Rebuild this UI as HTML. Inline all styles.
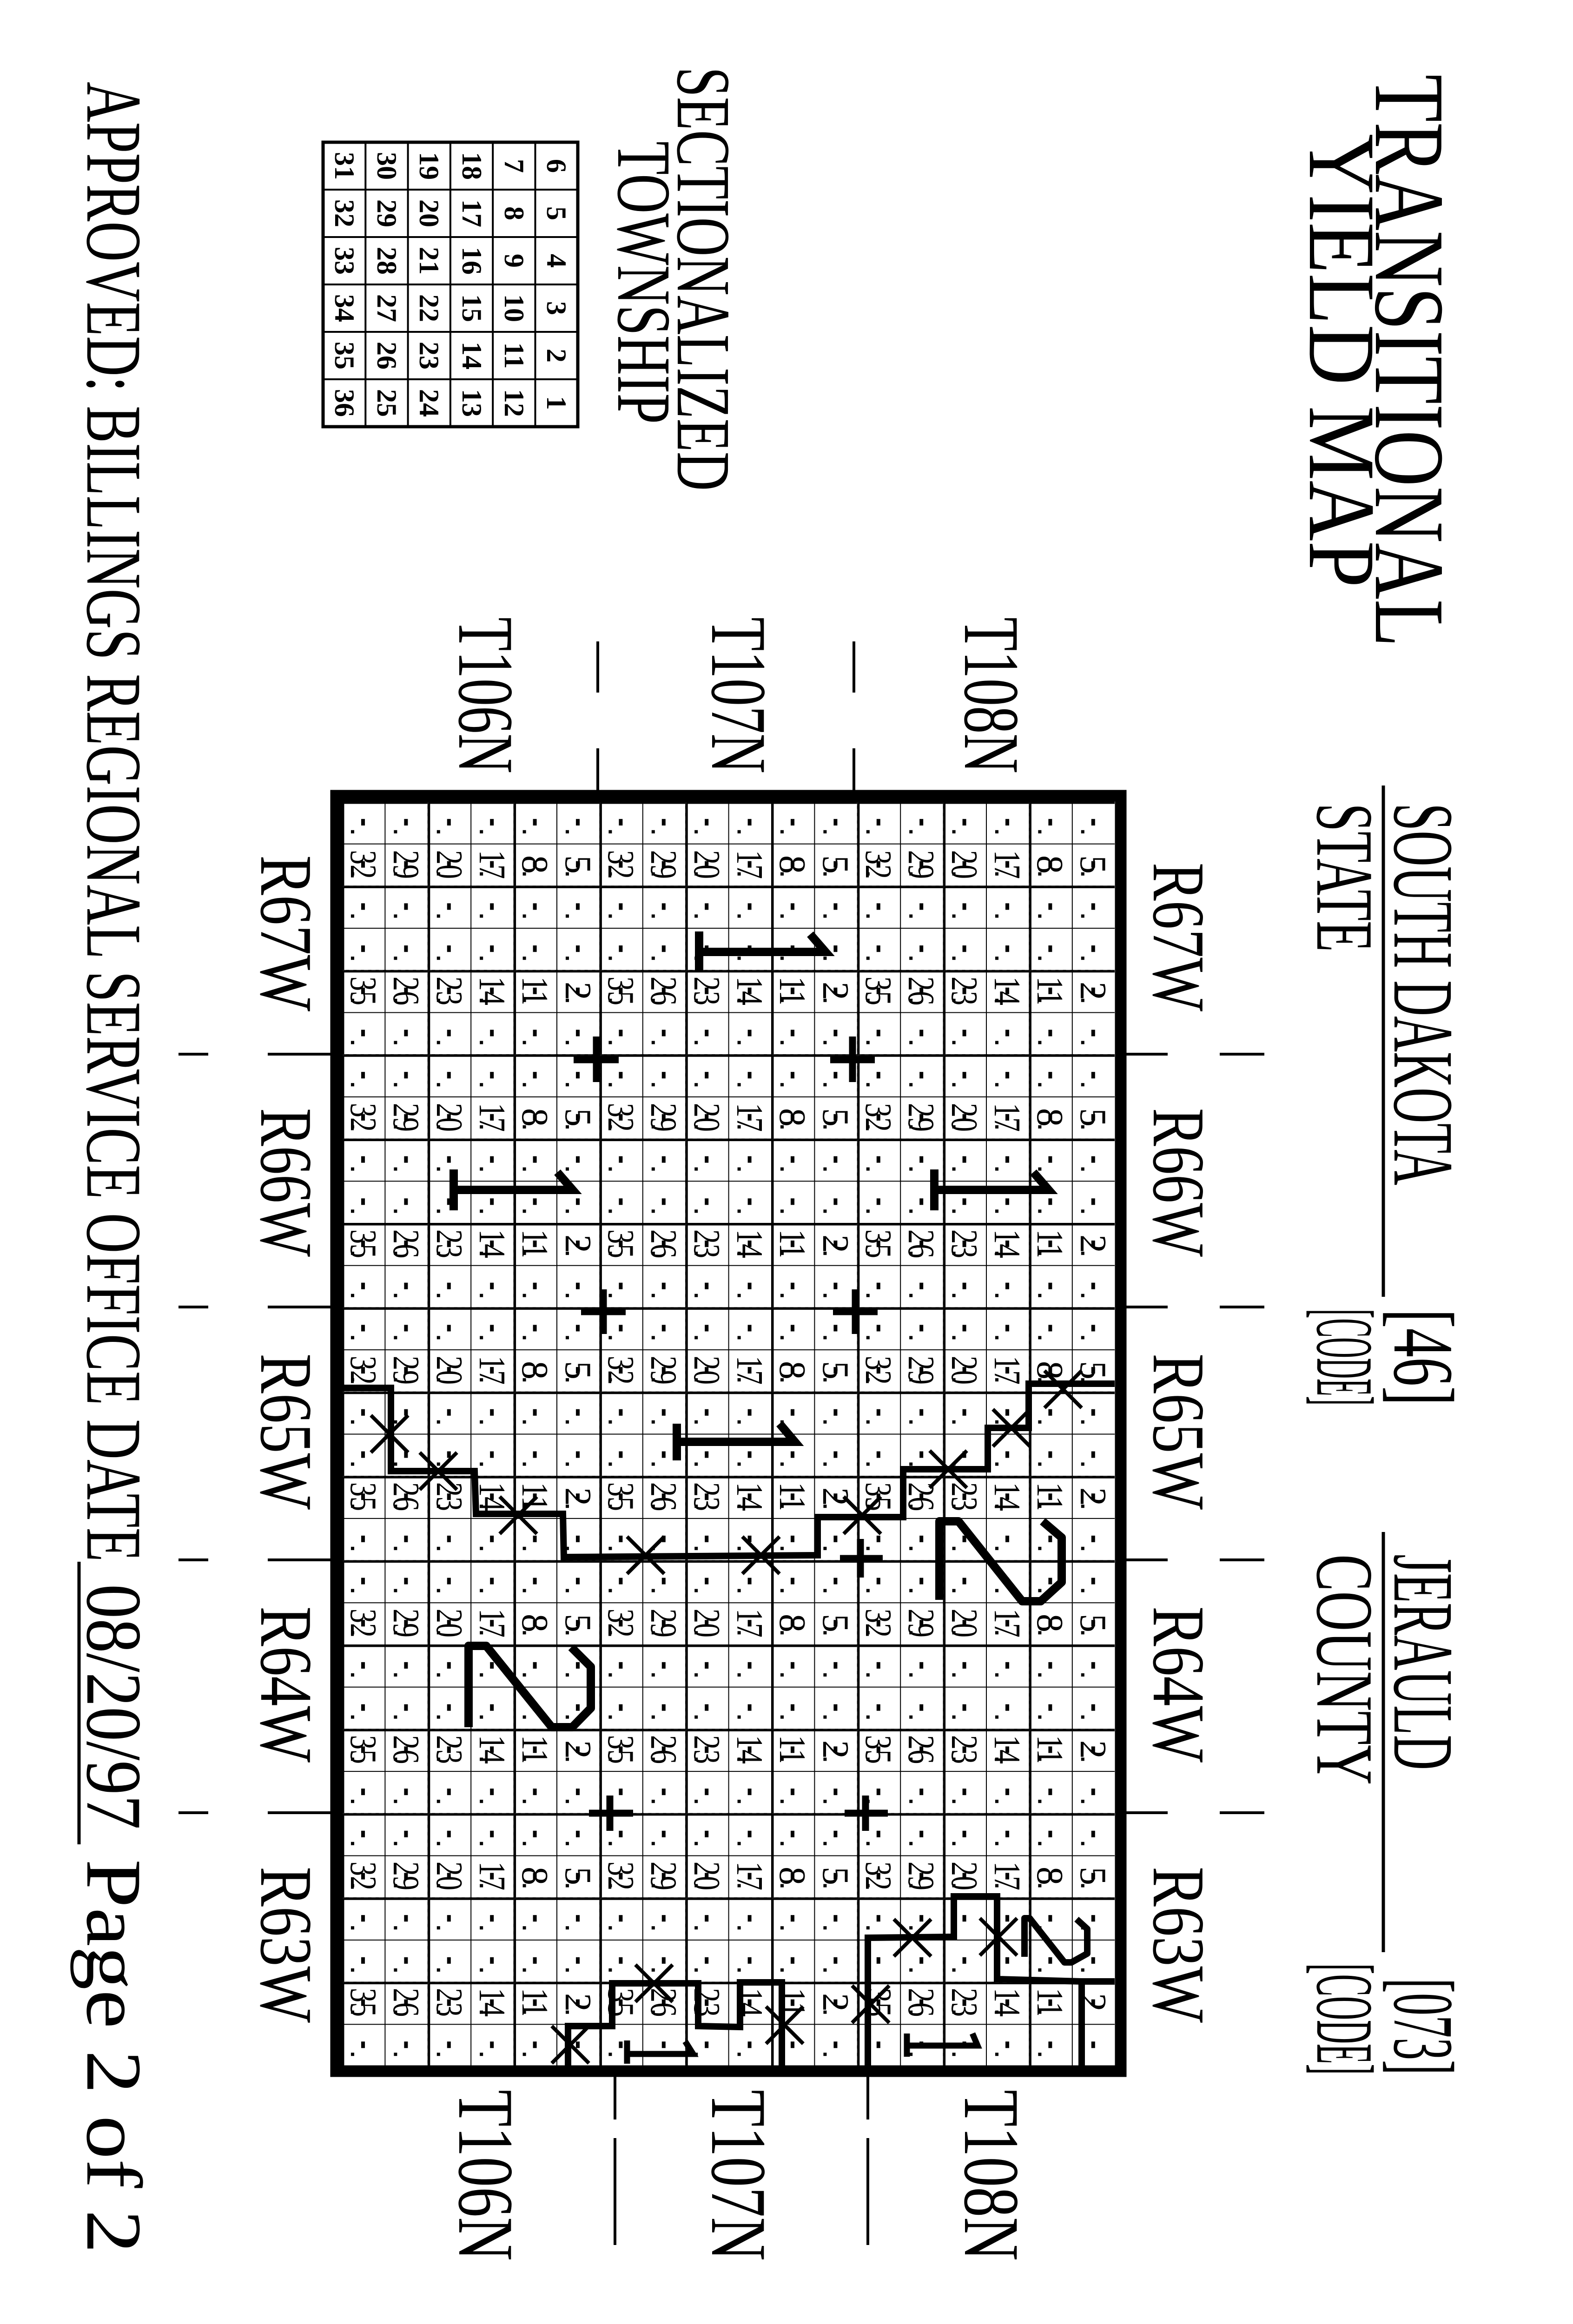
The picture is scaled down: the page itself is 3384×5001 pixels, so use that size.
<!DOCTYPE html>
<html><head><meta charset="utf-8"><style>
html,body{margin:0;padding:0;background:#fff;width:3384px;height:5001px;overflow:hidden}
svg{display:block}
.L{font-family:"Liberation Serif",serif;fill:#000}
.b{font-family:"Liberation Serif",serif;font-size:80px;text-anchor:middle;fill:#000}
.s{font-family:"Liberation Serif",serif;font-weight:bold;font-size:60px;text-anchor:middle;fill:#000}
</style></head><body>
<svg width="3384" height="5001" viewBox="0 0 3384 5001" xmlns="http://www.w3.org/2000/svg">
<defs>
<pattern id="sec" patternUnits="userSpaceOnUse" x="735" y="1724" width="92.4" height="90.7">
<path d="M0 0H92.4M0 0V90.7" stroke="#000" stroke-width="4" fill="none"/>
<rect x="42" y="38" width="8" height="14" fill="#000"/>
<rect x="20" y="62" width="7" height="7" fill="#000"/>
</pattern>
<pattern id="rd" patternUnits="userSpaceOnUse" x="735" y="1724" width="184.8" height="181.4">
<path d="M0 0H184.8M0 0V181.4" stroke="#000" stroke-width="11" fill="none"/>
<path d="M0 0H184.8M0 0V181.4" stroke="#fff" stroke-width="4" stroke-dasharray="9 7" fill="none"/>
</pattern>
</defs>
<rect width="3384" height="5001" fill="#fff"/>

<!-- Titles -->
<text class="L" font-size="215" transform="translate(2960,160) rotate(90)" textLength="1232" lengthAdjust="spacingAndGlyphs">TRANSITIONAL</text>
<text class="L" font-size="205" transform="translate(2818,288) rotate(90)" textLength="976" lengthAdjust="spacingAndGlyphs">YIELD MAP</text>

<text class="L" font-size="185" transform="translate(3000,1728) rotate(90)" textLength="822" lengthAdjust="spacingAndGlyphs">SOUTH DAKOTA</text>
<text class="L" font-size="185" transform="translate(3000,2816) rotate(90)" textLength="208" lengthAdjust="spacingAndGlyphs">[46]</text>
<line x1="2976" y1="1690" x2="2976" y2="2790" stroke="#000" stroke-width="7"/>
<text class="L" font-size="175" transform="translate(2834,1728) rotate(90)" textLength="320" lengthAdjust="spacingAndGlyphs">STATE</text>
<text class="L" font-size="175" transform="translate(2834,2816) rotate(90)" textLength="208" lengthAdjust="spacingAndGlyphs">[CODE]</text>

<text class="L" font-size="185" transform="translate(3000,3344) rotate(90)" textLength="464" lengthAdjust="spacingAndGlyphs">JERAULD</text>
<text class="L" font-size="185" transform="translate(3000,4256) rotate(90)" textLength="208" lengthAdjust="spacingAndGlyphs">[073]</text>
<line x1="2976" y1="3296" x2="2976" y2="4200" stroke="#000" stroke-width="7"/>
<text class="L" font-size="175" transform="translate(2834,3344) rotate(90)" textLength="496" lengthAdjust="spacingAndGlyphs">COUNTY</text>
<text class="L" font-size="175" transform="translate(2834,4224) rotate(90)" textLength="240" lengthAdjust="spacingAndGlyphs">[CODE]</text>

<text class="L" font-size="165" transform="translate(1458,144) rotate(90)" textLength="912" lengthAdjust="spacingAndGlyphs">SECTIONALIZED</text>
<text class="L" font-size="165" transform="translate(1330,304) rotate(90)" textLength="608" lengthAdjust="spacingAndGlyphs">TOWNSHIP</text>

<text class="L" font-size="170" transform="translate(188,176) rotate(90)" textLength="3184" lengthAdjust="spacingAndGlyphs">APPROVED: BILLINGS REGIONAL SERVICE OFFICE  DATE</text>
<text class="L" font-size="170" transform="translate(188,3408) rotate(90)" textLength="528" lengthAdjust="spacingAndGlyphs">08/20/97</text>
<line x1="170" y1="3360" x2="170" y2="3968" stroke="#000" stroke-width="7"/>
<text class="L" font-size="170" transform="translate(188,4000) rotate(90)" textLength="848" lengthAdjust="spacingAndGlyphs">Page 2 of 2</text>

<!-- Inset section grid -->
<g stroke="#000" fill="none">
<rect x="695" y="306" width="548" height="612" stroke-width="7"/>
<path d="M786.3 306V918M877.6 306V918M968.9 306V918M1060.2 306V918M1151.5 306V918M695 408H1243M695 510H1243M695 612H1243M695 714H1243M695 816H1243" stroke-width="4"/>
</g>
<g transform="translate(1243,306) rotate(90)" class="s">
<text x="51" y="66">6</text><text x="153" y="66">5</text><text x="255" y="66">4</text><text x="357" y="66">3</text><text x="459" y="66">2</text><text x="561" y="66">1</text>
<text x="51" y="157">7</text><text x="153" y="157">8</text><text x="255" y="157">9</text><text x="357" y="157">10</text><text x="459" y="157">11</text><text x="561" y="157">12</text>
<text x="51" y="248">18</text><text x="153" y="248">17</text><text x="255" y="248">16</text><text x="357" y="248">15</text><text x="459" y="248">14</text><text x="561" y="248">13</text>
<text x="51" y="340">19</text><text x="153" y="340">20</text><text x="255" y="340">21</text><text x="357" y="340">22</text><text x="459" y="340">23</text><text x="561" y="340">24</text>
<text x="51" y="431">30</text><text x="153" y="431">29</text><text x="255" y="431">28</text><text x="357" y="431">27</text><text x="459" y="431">26</text><text x="561" y="431">25</text>
<text x="51" y="522">31</text><text x="153" y="522">32</text><text x="255" y="522">33</text><text x="357" y="522">34</text><text x="459" y="522">35</text><text x="561" y="522">36</text>
</g>

<!-- Township labels -->
<text class="L" font-size="170" transform="translate(2076,1328) rotate(90)" textLength="336" lengthAdjust="spacingAndGlyphs">T108N</text>
<text class="L" font-size="170" transform="translate(2076,4496) rotate(90)" textLength="368" lengthAdjust="spacingAndGlyphs">T108N</text>
<text class="L" font-size="170" transform="translate(1532,1328) rotate(90)" textLength="336" lengthAdjust="spacingAndGlyphs">T107N</text>
<text class="L" font-size="170" transform="translate(1532,4496) rotate(90)" textLength="368" lengthAdjust="spacingAndGlyphs">T107N</text>
<text class="L" font-size="170" transform="translate(988,1328) rotate(90)" textLength="336" lengthAdjust="spacingAndGlyphs">T106N</text>
<text class="L" font-size="170" transform="translate(988,4496) rotate(90)" textLength="368" lengthAdjust="spacingAndGlyphs">T106N</text>

<!-- Range labels -->
<g class="L" font-size="160">
<text transform="translate(2482,1856) rotate(90)" textLength="320" lengthAdjust="spacingAndGlyphs">R67W</text>
<text transform="translate(2482,2384) rotate(90)" textLength="320" lengthAdjust="spacingAndGlyphs">R66W</text>
<text transform="translate(2482,2912) rotate(90)" textLength="336" lengthAdjust="spacingAndGlyphs">R65W</text>
<text transform="translate(2482,3456) rotate(90)" textLength="336" lengthAdjust="spacingAndGlyphs">R64W</text>
<text transform="translate(2482,4016) rotate(90)" textLength="336" lengthAdjust="spacingAndGlyphs">R63W</text>
<text transform="translate(562,1840) rotate(90)" textLength="336" lengthAdjust="spacingAndGlyphs">R67W</text>
<text transform="translate(562,2384) rotate(90)" textLength="320" lengthAdjust="spacingAndGlyphs">R66W</text>
<text transform="translate(562,2912) rotate(90)" textLength="336" lengthAdjust="spacingAndGlyphs">R65W</text>
<text transform="translate(562,3456) rotate(90)" textLength="336" lengthAdjust="spacingAndGlyphs">R64W</text>
<text transform="translate(562,4016) rotate(90)" textLength="336" lengthAdjust="spacingAndGlyphs">R63W</text>
</g>

<!-- tick lines -->
<g stroke="#000" stroke-width="6">
<path d="M2423 2268H2512M2624 2268H2720M2423 2812H2512M2624 2812H2720M2423 3356H2512M2624 3356H2720M2423 3900H2512M2624 3900H2720"/>
<path d="M384 2268H448M576 2268H711M384 2812H448M576 2812H711M384 3356H448M576 3356H711M384 3900H448M576 3900H711"/>
<path d="M1286 1380V1490M1286 1610V1700M1837 1380V1490M1837 1610V1700"/>
<path d="M1323 4468V4560M1323 4600V4830M1867 4468V4560M1867 4600V4830"/>
</g>

<!-- Map -->
<rect x="735" y="1724" width="1663" height="2721" fill="#fff"/>
<rect x="735" y="1724" width="1663" height="2721" fill="url(#rd)"/>
<rect x="735" y="1724" width="1663" height="2721" fill="url(#sec)"/>

<!-- big section numbers per township -->
<g transform="translate(2398,1724) rotate(90)"><text class="b" x="136" y="73">5</text><text class="b" x="136" y="166">8</text><text class="b" x="136" y="258" textLength="62" lengthAdjust="spacingAndGlyphs">17</text><text class="b" x="136" y="350" textLength="62" lengthAdjust="spacingAndGlyphs">20</text><text class="b" x="136" y="443" textLength="62" lengthAdjust="spacingAndGlyphs">29</text><text class="b" x="136" y="535" textLength="62" lengthAdjust="spacingAndGlyphs">32</text><text class="b" x="408" y="73">2</text><text class="b" x="408" y="166" textLength="62" lengthAdjust="spacingAndGlyphs">11</text><text class="b" x="408" y="258" textLength="62" lengthAdjust="spacingAndGlyphs">14</text><text class="b" x="408" y="350" textLength="62" lengthAdjust="spacingAndGlyphs">23</text><text class="b" x="408" y="443" textLength="62" lengthAdjust="spacingAndGlyphs">26</text><text class="b" x="408" y="535" textLength="62" lengthAdjust="spacingAndGlyphs">35</text></g>
<g transform="translate(2398,2268) rotate(90)"><text class="b" x="136" y="73">5</text><text class="b" x="136" y="166">8</text><text class="b" x="136" y="258" textLength="62" lengthAdjust="spacingAndGlyphs">17</text><text class="b" x="136" y="350" textLength="62" lengthAdjust="spacingAndGlyphs">20</text><text class="b" x="136" y="443" textLength="62" lengthAdjust="spacingAndGlyphs">29</text><text class="b" x="136" y="535" textLength="62" lengthAdjust="spacingAndGlyphs">32</text><text class="b" x="408" y="73">2</text><text class="b" x="408" y="166" textLength="62" lengthAdjust="spacingAndGlyphs">11</text><text class="b" x="408" y="258" textLength="62" lengthAdjust="spacingAndGlyphs">14</text><text class="b" x="408" y="350" textLength="62" lengthAdjust="spacingAndGlyphs">23</text><text class="b" x="408" y="443" textLength="62" lengthAdjust="spacingAndGlyphs">26</text><text class="b" x="408" y="535" textLength="62" lengthAdjust="spacingAndGlyphs">35</text></g>
<g transform="translate(2398,2812) rotate(90)"><text class="b" x="136" y="73">5</text><text class="b" x="136" y="166">8</text><text class="b" x="136" y="258" textLength="62" lengthAdjust="spacingAndGlyphs">17</text><text class="b" x="136" y="350" textLength="62" lengthAdjust="spacingAndGlyphs">20</text><text class="b" x="136" y="443" textLength="62" lengthAdjust="spacingAndGlyphs">29</text><text class="b" x="136" y="535" textLength="62" lengthAdjust="spacingAndGlyphs">32</text><text class="b" x="408" y="73">2</text><text class="b" x="408" y="166" textLength="62" lengthAdjust="spacingAndGlyphs">11</text><text class="b" x="408" y="258" textLength="62" lengthAdjust="spacingAndGlyphs">14</text><text class="b" x="408" y="350" textLength="62" lengthAdjust="spacingAndGlyphs">23</text><text class="b" x="408" y="443" textLength="62" lengthAdjust="spacingAndGlyphs">26</text><text class="b" x="408" y="535" textLength="62" lengthAdjust="spacingAndGlyphs">35</text></g>
<g transform="translate(2398,3356) rotate(90)"><text class="b" x="136" y="73">5</text><text class="b" x="136" y="166">8</text><text class="b" x="136" y="258" textLength="62" lengthAdjust="spacingAndGlyphs">17</text><text class="b" x="136" y="350" textLength="62" lengthAdjust="spacingAndGlyphs">20</text><text class="b" x="136" y="443" textLength="62" lengthAdjust="spacingAndGlyphs">29</text><text class="b" x="136" y="535" textLength="62" lengthAdjust="spacingAndGlyphs">32</text><text class="b" x="408" y="73">2</text><text class="b" x="408" y="166" textLength="62" lengthAdjust="spacingAndGlyphs">11</text><text class="b" x="408" y="258" textLength="62" lengthAdjust="spacingAndGlyphs">14</text><text class="b" x="408" y="350" textLength="62" lengthAdjust="spacingAndGlyphs">23</text><text class="b" x="408" y="443" textLength="62" lengthAdjust="spacingAndGlyphs">26</text><text class="b" x="408" y="535" textLength="62" lengthAdjust="spacingAndGlyphs">35</text></g>
<g transform="translate(2398,3900) rotate(90)"><text class="b" x="136" y="73">5</text><text class="b" x="136" y="166">8</text><text class="b" x="136" y="258" textLength="62" lengthAdjust="spacingAndGlyphs">17</text><text class="b" x="136" y="350" textLength="62" lengthAdjust="spacingAndGlyphs">20</text><text class="b" x="136" y="443" textLength="62" lengthAdjust="spacingAndGlyphs">29</text><text class="b" x="136" y="535" textLength="62" lengthAdjust="spacingAndGlyphs">32</text><text class="b" x="408" y="73">2</text><text class="b" x="408" y="166" textLength="62" lengthAdjust="spacingAndGlyphs">11</text><text class="b" x="408" y="258" textLength="62" lengthAdjust="spacingAndGlyphs">14</text><text class="b" x="408" y="350" textLength="62" lengthAdjust="spacingAndGlyphs">23</text><text class="b" x="408" y="443" textLength="62" lengthAdjust="spacingAndGlyphs">26</text><text class="b" x="408" y="535" textLength="62" lengthAdjust="spacingAndGlyphs">35</text></g>
<g transform="translate(1844,1724) rotate(90)"><text class="b" x="136" y="73">5</text><text class="b" x="136" y="166">8</text><text class="b" x="136" y="258" textLength="62" lengthAdjust="spacingAndGlyphs">17</text><text class="b" x="136" y="350" textLength="62" lengthAdjust="spacingAndGlyphs">20</text><text class="b" x="136" y="443" textLength="62" lengthAdjust="spacingAndGlyphs">29</text><text class="b" x="136" y="535" textLength="62" lengthAdjust="spacingAndGlyphs">32</text><text class="b" x="408" y="73">2</text><text class="b" x="408" y="166" textLength="62" lengthAdjust="spacingAndGlyphs">11</text><text class="b" x="408" y="258" textLength="62" lengthAdjust="spacingAndGlyphs">14</text><text class="b" x="408" y="350" textLength="62" lengthAdjust="spacingAndGlyphs">23</text><text class="b" x="408" y="443" textLength="62" lengthAdjust="spacingAndGlyphs">26</text><text class="b" x="408" y="535" textLength="62" lengthAdjust="spacingAndGlyphs">35</text></g>
<g transform="translate(1844,2268) rotate(90)"><text class="b" x="136" y="73">5</text><text class="b" x="136" y="166">8</text><text class="b" x="136" y="258" textLength="62" lengthAdjust="spacingAndGlyphs">17</text><text class="b" x="136" y="350" textLength="62" lengthAdjust="spacingAndGlyphs">20</text><text class="b" x="136" y="443" textLength="62" lengthAdjust="spacingAndGlyphs">29</text><text class="b" x="136" y="535" textLength="62" lengthAdjust="spacingAndGlyphs">32</text><text class="b" x="408" y="73">2</text><text class="b" x="408" y="166" textLength="62" lengthAdjust="spacingAndGlyphs">11</text><text class="b" x="408" y="258" textLength="62" lengthAdjust="spacingAndGlyphs">14</text><text class="b" x="408" y="350" textLength="62" lengthAdjust="spacingAndGlyphs">23</text><text class="b" x="408" y="443" textLength="62" lengthAdjust="spacingAndGlyphs">26</text><text class="b" x="408" y="535" textLength="62" lengthAdjust="spacingAndGlyphs">35</text></g>
<g transform="translate(1844,2812) rotate(90)"><text class="b" x="136" y="73">5</text><text class="b" x="136" y="166">8</text><text class="b" x="136" y="258" textLength="62" lengthAdjust="spacingAndGlyphs">17</text><text class="b" x="136" y="350" textLength="62" lengthAdjust="spacingAndGlyphs">20</text><text class="b" x="136" y="443" textLength="62" lengthAdjust="spacingAndGlyphs">29</text><text class="b" x="136" y="535" textLength="62" lengthAdjust="spacingAndGlyphs">32</text><text class="b" x="408" y="73">2</text><text class="b" x="408" y="166" textLength="62" lengthAdjust="spacingAndGlyphs">11</text><text class="b" x="408" y="258" textLength="62" lengthAdjust="spacingAndGlyphs">14</text><text class="b" x="408" y="350" textLength="62" lengthAdjust="spacingAndGlyphs">23</text><text class="b" x="408" y="443" textLength="62" lengthAdjust="spacingAndGlyphs">26</text><text class="b" x="408" y="535" textLength="62" lengthAdjust="spacingAndGlyphs">35</text></g>
<g transform="translate(1844,3356) rotate(90)"><text class="b" x="136" y="73">5</text><text class="b" x="136" y="166">8</text><text class="b" x="136" y="258" textLength="62" lengthAdjust="spacingAndGlyphs">17</text><text class="b" x="136" y="350" textLength="62" lengthAdjust="spacingAndGlyphs">20</text><text class="b" x="136" y="443" textLength="62" lengthAdjust="spacingAndGlyphs">29</text><text class="b" x="136" y="535" textLength="62" lengthAdjust="spacingAndGlyphs">32</text><text class="b" x="408" y="73">2</text><text class="b" x="408" y="166" textLength="62" lengthAdjust="spacingAndGlyphs">11</text><text class="b" x="408" y="258" textLength="62" lengthAdjust="spacingAndGlyphs">14</text><text class="b" x="408" y="350" textLength="62" lengthAdjust="spacingAndGlyphs">23</text><text class="b" x="408" y="443" textLength="62" lengthAdjust="spacingAndGlyphs">26</text><text class="b" x="408" y="535" textLength="62" lengthAdjust="spacingAndGlyphs">35</text></g>
<g transform="translate(1844,3900) rotate(90)"><text class="b" x="136" y="73">5</text><text class="b" x="136" y="166">8</text><text class="b" x="136" y="258" textLength="62" lengthAdjust="spacingAndGlyphs">17</text><text class="b" x="136" y="350" textLength="62" lengthAdjust="spacingAndGlyphs">20</text><text class="b" x="136" y="443" textLength="62" lengthAdjust="spacingAndGlyphs">29</text><text class="b" x="136" y="535" textLength="62" lengthAdjust="spacingAndGlyphs">32</text><text class="b" x="408" y="73">2</text><text class="b" x="408" y="166" textLength="62" lengthAdjust="spacingAndGlyphs">11</text><text class="b" x="408" y="258" textLength="62" lengthAdjust="spacingAndGlyphs">14</text><text class="b" x="408" y="350" textLength="62" lengthAdjust="spacingAndGlyphs">23</text><text class="b" x="408" y="443" textLength="62" lengthAdjust="spacingAndGlyphs">26</text><text class="b" x="408" y="535" textLength="62" lengthAdjust="spacingAndGlyphs">35</text></g>
<g transform="translate(1290,1724) rotate(90)"><text class="b" x="136" y="73">5</text><text class="b" x="136" y="166">8</text><text class="b" x="136" y="258" textLength="62" lengthAdjust="spacingAndGlyphs">17</text><text class="b" x="136" y="350" textLength="62" lengthAdjust="spacingAndGlyphs">20</text><text class="b" x="136" y="443" textLength="62" lengthAdjust="spacingAndGlyphs">29</text><text class="b" x="136" y="535" textLength="62" lengthAdjust="spacingAndGlyphs">32</text><text class="b" x="408" y="73">2</text><text class="b" x="408" y="166" textLength="62" lengthAdjust="spacingAndGlyphs">11</text><text class="b" x="408" y="258" textLength="62" lengthAdjust="spacingAndGlyphs">14</text><text class="b" x="408" y="350" textLength="62" lengthAdjust="spacingAndGlyphs">23</text><text class="b" x="408" y="443" textLength="62" lengthAdjust="spacingAndGlyphs">26</text><text class="b" x="408" y="535" textLength="62" lengthAdjust="spacingAndGlyphs">35</text></g>
<g transform="translate(1290,2268) rotate(90)"><text class="b" x="136" y="73">5</text><text class="b" x="136" y="166">8</text><text class="b" x="136" y="258" textLength="62" lengthAdjust="spacingAndGlyphs">17</text><text class="b" x="136" y="350" textLength="62" lengthAdjust="spacingAndGlyphs">20</text><text class="b" x="136" y="443" textLength="62" lengthAdjust="spacingAndGlyphs">29</text><text class="b" x="136" y="535" textLength="62" lengthAdjust="spacingAndGlyphs">32</text><text class="b" x="408" y="73">2</text><text class="b" x="408" y="166" textLength="62" lengthAdjust="spacingAndGlyphs">11</text><text class="b" x="408" y="258" textLength="62" lengthAdjust="spacingAndGlyphs">14</text><text class="b" x="408" y="350" textLength="62" lengthAdjust="spacingAndGlyphs">23</text><text class="b" x="408" y="443" textLength="62" lengthAdjust="spacingAndGlyphs">26</text><text class="b" x="408" y="535" textLength="62" lengthAdjust="spacingAndGlyphs">35</text></g>
<g transform="translate(1290,2812) rotate(90)"><text class="b" x="136" y="73">5</text><text class="b" x="136" y="166">8</text><text class="b" x="136" y="258" textLength="62" lengthAdjust="spacingAndGlyphs">17</text><text class="b" x="136" y="350" textLength="62" lengthAdjust="spacingAndGlyphs">20</text><text class="b" x="136" y="443" textLength="62" lengthAdjust="spacingAndGlyphs">29</text><text class="b" x="136" y="535" textLength="62" lengthAdjust="spacingAndGlyphs">32</text><text class="b" x="408" y="73">2</text><text class="b" x="408" y="166" textLength="62" lengthAdjust="spacingAndGlyphs">11</text><text class="b" x="408" y="258" textLength="62" lengthAdjust="spacingAndGlyphs">14</text><text class="b" x="408" y="350" textLength="62" lengthAdjust="spacingAndGlyphs">23</text><text class="b" x="408" y="443" textLength="62" lengthAdjust="spacingAndGlyphs">26</text><text class="b" x="408" y="535" textLength="62" lengthAdjust="spacingAndGlyphs">35</text></g>
<g transform="translate(1290,3356) rotate(90)"><text class="b" x="136" y="73">5</text><text class="b" x="136" y="166">8</text><text class="b" x="136" y="258" textLength="62" lengthAdjust="spacingAndGlyphs">17</text><text class="b" x="136" y="350" textLength="62" lengthAdjust="spacingAndGlyphs">20</text><text class="b" x="136" y="443" textLength="62" lengthAdjust="spacingAndGlyphs">29</text><text class="b" x="136" y="535" textLength="62" lengthAdjust="spacingAndGlyphs">32</text><text class="b" x="408" y="73">2</text><text class="b" x="408" y="166" textLength="62" lengthAdjust="spacingAndGlyphs">11</text><text class="b" x="408" y="258" textLength="62" lengthAdjust="spacingAndGlyphs">14</text><text class="b" x="408" y="350" textLength="62" lengthAdjust="spacingAndGlyphs">23</text><text class="b" x="408" y="443" textLength="62" lengthAdjust="spacingAndGlyphs">26</text><text class="b" x="408" y="535" textLength="62" lengthAdjust="spacingAndGlyphs">35</text></g>
<g transform="translate(1290,3900) rotate(90)"><text class="b" x="136" y="73">5</text><text class="b" x="136" y="166">8</text><text class="b" x="136" y="258" textLength="62" lengthAdjust="spacingAndGlyphs">17</text><text class="b" x="136" y="350" textLength="62" lengthAdjust="spacingAndGlyphs">20</text><text class="b" x="136" y="443" textLength="62" lengthAdjust="spacingAndGlyphs">29</text><text class="b" x="136" y="535" textLength="62" lengthAdjust="spacingAndGlyphs">32</text><text class="b" x="408" y="73">2</text><text class="b" x="408" y="166" textLength="62" lengthAdjust="spacingAndGlyphs">11</text><text class="b" x="408" y="258" textLength="62" lengthAdjust="spacingAndGlyphs">14</text><text class="b" x="408" y="350" textLength="62" lengthAdjust="spacingAndGlyphs">23</text><text class="b" x="408" y="443" textLength="62" lengthAdjust="spacingAndGlyphs">26</text><text class="b" x="408" y="535" textLength="62" lengthAdjust="spacingAndGlyphs">35</text></g>

<!-- Zone boundaries -->
<g stroke="#000" stroke-width="14" fill="none" stroke-linejoin="miter">
<polyline points="2398,2977 2213,2977 2213,3072 2125,3072 2125,3161 1943,3161 1943,3264 1759,3264 1759,3346 1213,3350 1211,3257 1024,3257 1021,3165 841,3165 841,2986 735,2986"/>
<polyline points="2398,4263 2327,4263 2327,4445"/>
<polyline points="2327,4263 2145,4258 2145,4080 2052,4080 2052,4167 1867,4169 1867,4445"/>
<polyline points="1682,4445 1682,4265 1592,4265 1592,4361 1502,4359 1502,4267 1317,4267 1317,4359 1222,4359 1222,4445"/>
</g>

<!-- big 2 shapes -->
<g stroke="#000" stroke-width="18" fill="none" stroke-linejoin="round">
<polyline points="2243,3273 2284,3308 2284,3404 2239,3445 2199,3445 2062,3273 2021,3273 2021,3442"/>
<polyline points="1229,3544 1271,3586 1271,3675 1231,3716 1187,3716 1046,3541 1008,3541 1008,3716"/>
<polyline stroke-width="14" points="2316,4129 2339,4150 2339,4203 2305,4222 2290,4222 2215,4127 2204,4127 2204,4210"/>
</g>

<!-- big 1 shapes -->
<g stroke="#000" stroke-width="18" fill="none">
<path d="M1504 2004V2092M1504 2048H1776L1743 2010"/>
<path d="M2010 2516V2604M2010 2560H2256L2223 2522"/>
<path d="M976 2516V2604M976 2560H1232L1199 2522"/>
<path d="M1456 3063V3142M1456 3102H1710L1677 3063"/>
<path stroke-width="13" d="M1349 4390V4440M1349 4419H1491L1474 4392"/>
<path stroke-width="13" d="M1951 4375V4425M1951 4401H2103L2092 4375"/>
</g>

<!-- plus markers -->
<g stroke="#000" stroke-width="15">
<path d="M1234 2280H1331M1283 2230V2328"/>
<path d="M1786 2280H1882M1834 2230V2328"/>
<path d="M1250 2822H1346M1298 2774V2870"/>
<path d="M1792 2822H1888M1840 2774V2870"/>
<path d="M1807 3353H1899M1851 3311V3394"/>
<path d="M1267 3901H1362M1312 3863V3939"/>
<path d="M1817 3901H1910M1862 3863V3939"/>
</g>

<!-- x markers -->
<g stroke="#000" stroke-width="8">
<path d="M2247 2949L2327 3029M2247 3029L2327 2949"/>
<path d="M2136 3032L2216 3112M2136 3112L2216 3032"/>
<path d="M2000 3121L2080 3201M2000 3201L2080 3121"/>
<path d="M1815 3220L1895 3300M1815 3300L1895 3220"/>
<path d="M1597 3306L1677 3386M1597 3386L1677 3306"/>
<path d="M1349 3306L1429 3386M1349 3386L1429 3306"/>
<path d="M1075 3220L1155 3300M1075 3300L1155 3220"/>
<path d="M903 3125L983 3205M903 3205L983 3125"/>
<path d="M798 3045L878 3125M798 3125L878 3045"/>
<path d="M1367 4227L1447 4307M1367 4307L1447 4227"/>
<path d="M1187 4359L1267 4439M1187 4439L1267 4359"/>
<path d="M1648 4317L1728 4397M1648 4397L1728 4317"/>
<path d="M1833 4272L1913 4352M1833 4352L1913 4272"/>
<path d="M1923 4129L2003 4209M1923 4209L2003 4129"/>
<path d="M2108 4127L2188 4207M2108 4207L2188 4127"/>
</g>

<!-- map border -->
<rect x="723" y="1712" width="1688" height="2744" fill="none" stroke="#000" stroke-width="25"/>
</svg>
</body></html>
